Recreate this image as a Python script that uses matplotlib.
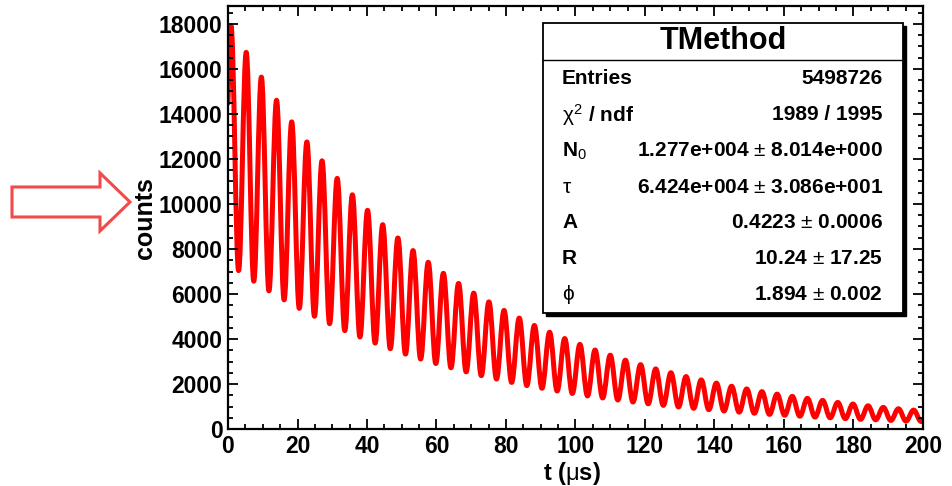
import numpy as np
import matplotlib
matplotlib.use("Agg")
import matplotlib.pyplot as plt
from matplotlib.patches import Rectangle, Polygon, PathPatch
from matplotlib.path import Path
from matplotlib.ticker import MultipleLocator

# fitted curve: extrema (t in us, counts)
peak_t = [0.87, 5.24, 9.60, 13.97, 18.33, 22.70, 27.06, 31.43, 35.79, 40.16,
          44.52, 48.89, 53.25, 57.62, 61.98, 66.35, 70.71, 75.08, 79.44, 83.81,
          88.17, 92.54, 96.90, 101.27, 105.63, 110.00, 114.36, 118.73, 123.09, 127.46,
          131.82, 136.19, 140.55, 144.92, 149.28, 153.65, 158.01, 162.38, 166.74, 171.11,
          175.47, 179.84, 184.20, 188.57, 192.93, 197.30]
peak_n = [17920, 16740, 15640, 14610, 13650, 12760, 11920, 11140, 10410, 9720,
          9080, 8490, 7930, 7410, 6920, 6470, 6040, 5650, 5270, 4930,
          4600, 4300, 4020, 3760, 3510, 3280, 3060, 2860, 2670, 2500,
          2330, 2180, 2040, 1900, 1780, 1660, 1550, 1450, 1360, 1270,
          1180, 1110, 1030, 960, 900, 840]
trough_t = [3.05, 7.42, 11.78, 16.15, 20.51, 24.88, 29.24, 33.61, 37.97, 42.34,
            46.70, 51.07, 55.43, 59.80, 64.16, 68.53, 72.89, 77.26, 81.62, 85.99,
            90.35, 94.72, 99.08, 103.45, 107.81, 112.18, 116.54, 120.91, 125.27, 129.64,
            134.00, 138.37, 142.73, 147.10, 151.46, 155.83, 160.19, 164.56, 168.92, 173.29,
            177.65, 182.02, 186.38, 190.75, 195.11, 199.48]
trough_n = [7040, 6570, 6140, 5740, 5360, 5010, 4680, 4370, 4090, 3820,
            3570, 3330, 3110, 2910, 2720, 2540, 2370, 2220, 2070, 1930,
            1810, 1690, 1580, 1470, 1380, 1290, 1200, 1120, 1050, 980,
            920, 860, 800, 750, 700, 650, 610, 570, 530, 500,
            460, 430, 410, 380, 350, 330]
start_pt = (0.0, 14480)
end_pt = (200.0, 390)

stat_labels = ["Entries", r"$\chi^2$ / ndf", r"N$_0$", r"$\tau$", "A", "R", r"$\phi$"]
stat_values = ["5498726", "1989 / 1995", "1.277e+004 $\\pm$ 8.014e+000",
               "6.424e+004 $\\pm$ 3.086e+001", "0.4223 $\\pm$ 0.0006",
               "10.24 $\\pm$ 17.25", "1.894 $\\pm$ 0.002"]

plt.rcParams['font.family'] = ['Liberation Sans', 'DejaVu Sans']
plt.rcParams['mathtext.fontset'] = 'custom'
plt.rcParams['mathtext.rm'] = 'Liberation Sans'
plt.rcParams['mathtext.it'] = 'Liberation Sans'

W, H = 953, 486
fig = plt.figure(figsize=(W / 100, H / 100), dpi=100)
ax = fig.add_axes([228 / W, 1 - 429 / H, (923 - 228) / W, (429 - 6) / H])

# interleave peaks and troughs, then join them with smooth cubic segments
# (flat tangent at every extremum, like a sine wave)
t = np.column_stack([peak_t, trough_t]).ravel()
n = np.column_stack([peak_n, trough_n]).ravel()
k = 0.364
verts = [start_pt]
codes = [Path.MOVETO]
d0 = t[0] - start_pt[0]
verts += [(start_pt[0] + d0 / 3, start_pt[1] + (n[0] - start_pt[1]) * 0.6), (t[0] - k * d0, n[0]), (t[0], n[0])]
codes += [Path.CURVE4] * 3
for i in range(len(t) - 1):
    d = t[i + 1] - t[i]
    verts += [(t[i] + k * d, n[i]), (t[i + 1] - k * d, n[i + 1]), (t[i + 1], n[i + 1])]
    codes += [Path.CURVE4] * 3
d1 = end_pt[0] - t[-1]
verts += [(t[-1] + k * d1, n[-1]), (end_pt[0] - d1 / 3, n[-1] + (end_pt[1] - n[-1]) * 0.6), end_pt]
codes += [Path.CURVE4] * 3
ax.add_patch(PathPatch(Path(verts, codes), facecolor='none', edgecolor='#ff0000',
                       lw=3.6, joinstyle='round', capstyle='round'))

ax.set_xlim(0, 200)
ax.set_ylim(0, 18800)
ax.xaxis.set_major_locator(MultipleLocator(20))
ax.xaxis.set_minor_locator(MultipleLocator(5))
ax.yaxis.set_major_locator(MultipleLocator(2000))
ax.yaxis.set_minor_locator(MultipleLocator(500))
ax.tick_params(which='both', direction='in', top=True, right=True, width=1.3)
ax.tick_params(which='major', length=7, labelsize=16.5)
ax.tick_params(which='minor', length=3.5)
ax.tick_params(axis='x', pad=4)
ax.tick_params(axis='y', pad=4)
for lab in ax.get_xticklabels() + ax.get_yticklabels():
    lab.set_fontweight('bold')
for sp in ax.spines.values():
    sp.set_linewidth(1.6)

fig.text(572 / W, 1 - 473 / H, r"t ($\mu$s)", ha='center', va='center', fontsize=17, fontweight='bold')
fig.text(145 / W, 1 - 218 / H, "counts", ha='center', va='center', rotation=90, fontsize=18, fontweight='bold')

# stats box with shadow
bx0, bx1 = 543 / W, 903 / W
by0, by1 = 1 - 313 / H, 1 - 23 / H
sh = 3
fig.patches.append(Rectangle((bx0 + sh / W, by0 - sh / H), bx1 - bx0, by1 - by0,
                             transform=fig.transFigure, facecolor='black', edgecolor='black', zorder=5))
fig.patches.append(Rectangle((bx0, by0), bx1 - bx0, by1 - by0, transform=fig.transFigure,
                             facecolor='white', edgecolor='black', lw=1.3, zorder=6))
fig.add_artist(plt.Line2D([bx0, bx1], [1 - 60 / H, 1 - 60 / H], transform=fig.transFigure,
                          color='black', lw=1.0, zorder=7))
fig.text((bx0 + bx1) / 2, 1 - 41 / H, "TMethod", ha='center', va='center',
         fontsize=22, fontweight='bold', zorder=8)
row_y = [78, 115, 151, 187, 223, 259, 295]
for lab, val, y in zip(stat_labels, stat_values, row_y):
    fig.text(562 / W, 1 - y / H, lab, ha='left', va='center', fontsize=15,
             fontweight='bold', zorder=8)
    fig.text(883 / W, 1 - y / H, val, ha='right', va='center', fontsize=15,
             fontweight='bold', zorder=8)

# red outline arrow pointing at the y axis title
arrow = [(12, 187), (100, 187), (100, 173), (130, 202), (100, 231), (100, 217), (12, 217)]
fig.patches.append(Polygon([(x / W, 1 - y / H) for x, y in arrow], closed=True,
                           transform=fig.transFigure, facecolor='none',
                           edgecolor='#f04a4a', lw=2.2, zorder=4))

fig.savefig("out.png", dpi=100)
